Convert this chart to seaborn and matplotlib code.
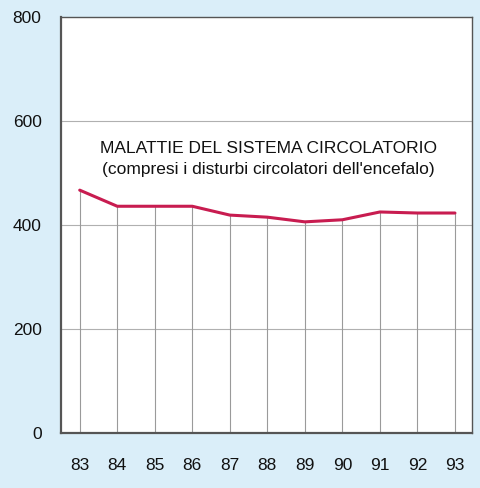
import matplotlib
matplotlib.use("Agg")
import matplotlib.pyplot as plt
import seaborn as sns
import pandas as pd

# dati
anni = [83, 84, 85, 86, 87, 88, 89, 90, 91, 92, 93]
valori = [467, 436, 436, 436, 419, 415, 406, 410, 425, 423, 423]
tick_y = [0, 200, 400, 600, 800]
titolo = "MALATTIE DEL SISTEMA CIRCOLATORIO"
sottotitolo = "(compresi i disturbi circolatori dell'encefalo)"

sns.set_theme(style="white")
plt.rcParams["font.family"] = ["Liberation Sans", "DejaVu Sans"]

df = pd.DataFrame({"anno": anni, "valore": valori})

bg = "#daeef9"
fig = plt.figure(figsize=(4.8, 4.88), dpi=100, facecolor=bg)
ax = fig.add_axes([0.127, 0.113, 0.856, 0.852])
ax.set_facecolor("white")

# griglia orizzontale
for v in tick_y[1:-1]:
    ax.axhline(v, color="#b0b0b0", lw=0.8, zorder=1)

# linee verticali dai valori all'asse
ax.vlines(df["anno"], 0, df["valore"], color="#9a9a9a", lw=0.8, zorder=1)

sns.lineplot(data=df, x="anno", y="valore", color="#c81c50", lw=2.2, ax=ax, zorder=3)

ax.text(0.505, 0.685, titolo, transform=ax.transAxes, ha="center", va="center",
        fontsize=12.5, color="#111111")
ax.text(0.505, 0.633, sottotitolo, transform=ax.transAxes, ha="center", va="center",
        fontsize=12.5, color="#111111")

ax.set_xlim(82.5, 93.45)
ax.set_ylim(0, 800)
ax.set_xticks(anni)
ax.set_yticks(tick_y)
ax.set_xlabel("")
ax.set_ylabel("")
ax.tick_params(axis="both", length=0, labelsize=12.5, colors="#111111")
ax.tick_params(axis="x", pad=18)
ax.tick_params(axis="y", pad=14)

for s in ax.spines.values():
    s.set_color("#555555")
    s.set_linewidth(1.0)
ax.spines["left"].set_linewidth(1.6)
ax.spines["bottom"].set_linewidth(1.6)

fig.savefig("out.png", dpi=100, facecolor=bg)
